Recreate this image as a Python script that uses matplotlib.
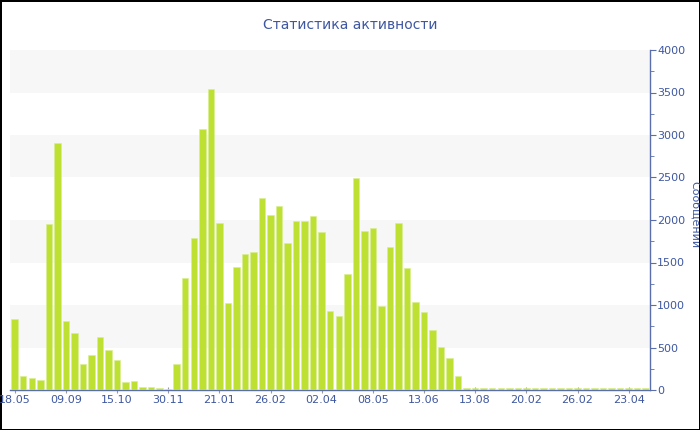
import matplotlib.pyplot as plt
import numpy as np

# weekly message counts
counts = [830, 165, 137, 118, 1950, 2900, 812, 667, 302, 416,
          620, 467, 353, 94, 102, 31, 31, 20, 12, 302,
          1314, 1788, 3067, 3541, 1968, 1020, 1447, 1596, 1627, 2255,
          2055, 2161, 1733, 1992, 1992, 2051, 1855, 933, 875, 1365,
          2490, 1866, 1902, 986, 1678, 1961, 1431, 1031, 922, 702,
          510, 373, 169, 18, 22, 20, 24, 19, 22, 20,
          26, 19, 24, 22, 28, 18, 20, 26, 22, 19,
          24, 18, 22, 26, 20]
tick_labels = ['18.05', '09.09', '15.10', '30.11', '21.01', '26.02', '02.04',
               '08.05', '13.06', '13.08', '20.02', '26.02', '23.04']
tick_step = 6
y_ticks = list(range(0, 4001, 500))

text_col = '#3e57a0'
axis_col = '#5a6eae'
bar_col = '#bde032'

fig = plt.figure(figsize=(7, 4.3), dpi=100, edgecolor='black', linewidth=2)
ax = fig.add_axes([10/700, 40/430, 640/700, 340/430])

x = np.arange(len(counts))
ax.bar(x, counts, width=0.76, color=bar_col, edgecolor='#d8ee90', linewidth=0.4, zorder=3)

# alternating bands
for lo in range(500, 4000, 1000):
    ax.axhspan(lo, lo + 500, color='#f7f7f7', zorder=0, lw=0)

ax.set_xlim(-0.55, len(counts) - 0.5)
ax.set_ylim(0, 4000)

ax.set_xticks(x[::tick_step][:len(tick_labels)])
ax.set_xticklabels(tick_labels)
ax.yaxis.tick_right()
ax.set_yticks(y_ticks)
ax.set_yticks(range(250, 4000, 500), minor=True)

for s in ['top', 'left']:
    ax.spines[s].set_visible(False)
for s in ['bottom', 'right']:
    ax.spines[s].set_color(axis_col)
    ax.spines[s].set_linewidth(1)

ax.tick_params(axis='x', colors='#999999', labelcolor=text_col, labelsize=8,
               direction='inout', length=5, pad=1)
ax.tick_params(axis='y', which='major', colors=axis_col, labelcolor=text_col,
               labelsize=8, length=4, pad=1)
ax.tick_params(axis='y', which='minor', colors=axis_col, length=3)

fig.text(695/700, 0.5, 'Сообщений', rotation=-90, ha='center', va='center',
         color=text_col, fontsize=8)

fig.text(0.5, 1 - 25/430, 'Статистика активности', ha='center', va='center',
         color=text_col, fontsize=10)

fig.savefig('out.png', dpi=100, edgecolor=fig.get_edgecolor())
